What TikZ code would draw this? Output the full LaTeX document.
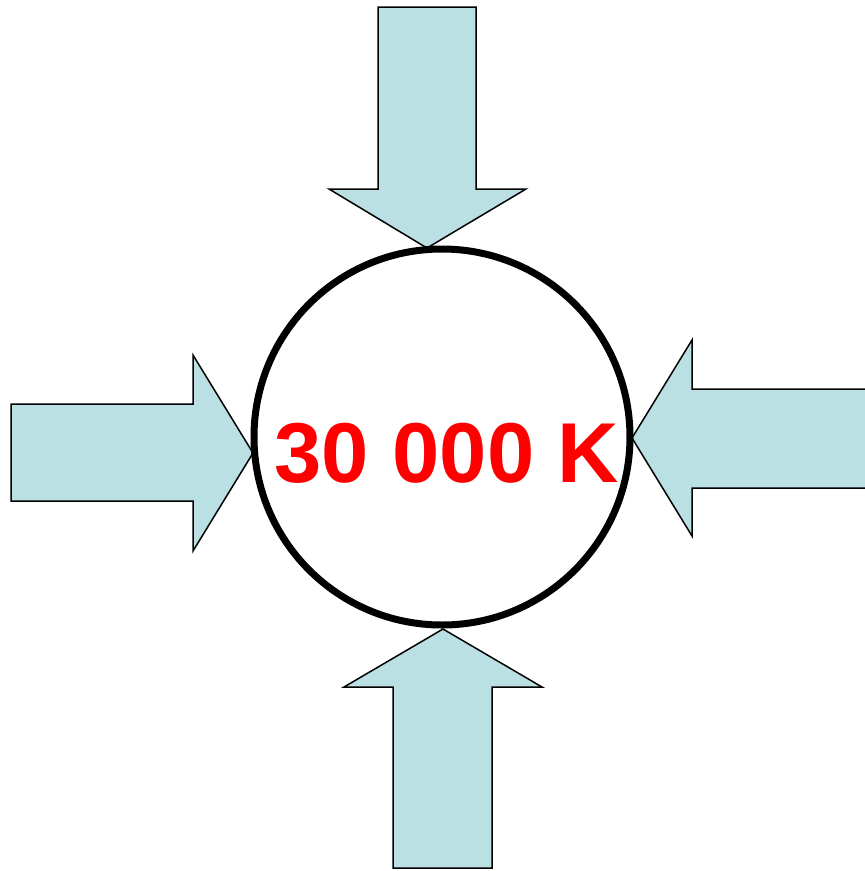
\documentclass[tikz,border=0pt]{standalone}
\usepackage{fontspec}
\setmainfont{Liberation Sans}
\definecolor{arrowfill}{RGB}{187,224,227}
\definecolor{labelred}{RGB}{255,0,0}
\begin{document}
\begin{tikzpicture}[x=1pt,y=-1pt,
  bigarrow/.style={draw=black,line width=1.5pt,fill=arrowfill,line join=miter},
  ring/.style={circle,draw=black,line width=7pt,fill=white,minimum size=376pt,inner sep=0pt}]
\useasboundingbox (0,0) rectangle (865,871);
% top arrow
\draw[bigarrow] (378,7) -- (476,7) -- (476,189) -- (526,189) -- (427,248) -- (329,189) -- (378,189) -- cycle;
% bottom arrow
\draw[bigarrow] (393,868) -- (492,868) -- (492,687) -- (542,687) -- (443,629) -- (344,687) -- (393,687) -- cycle;
% left arrow
\draw[bigarrow] (11,404) -- (193,404) -- (193,355) -- (253,453) -- (193,551) -- (193,501) -- (11,501) -- cycle;
% right arrow
\draw[bigarrow] (870,389) -- (692,389) -- (692,340) -- (632,438) -- (692,536) -- (692,488) -- (870,488);
\node[ring] (c) at (442,437) {};
\node[anchor=base,text=labelred,font=\fontsize{85}{85}\selectfont\bfseries,inner sep=0pt] (t) at (447,482) {30 000 K};
\end{tikzpicture}
\end{document}
